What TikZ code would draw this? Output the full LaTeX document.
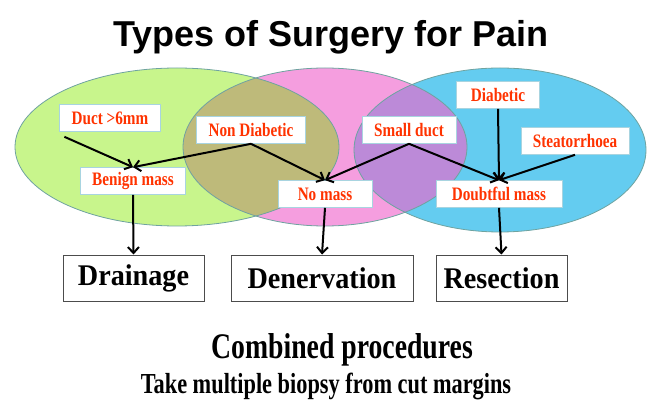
\documentclass[tikz,border=0pt]{standalone}
\usepackage{fontspec}
\usepackage{tikz}
\usetikzlibrary{arrows.meta, positioning, calc}
\setmainfont{Liberation Serif}
\newfontfamily\titlefont{Liberation Sans}
\newfontfamily\labelfont[FakeStretch=0.8]{Liberation Serif}
\newfontfamily\boxfont[FakeStretch=0.94]{Liberation Serif}
\newfontfamily\notefont[FakeStretch=0.77]{Liberation Serif}
\definecolor{DrainGreen}{HTML}{C8F58C}
\definecolor{DenervPink}{HTML}{F59EDF}
\definecolor{ResectBlue}{HTML}{64CCF0}
\definecolor{OverlapOlive}{HTML}{BEBA7A}
\definecolor{OverlapPurple}{HTML}{BC8AD8}
\definecolor{RimTeal}{HTML}{6FA3A0}
\definecolor{CondRed}{HTML}{FF3300}
\definecolor{CondEdge}{HTML}{A8D4E0}

\begin{document}
\begin{tikzpicture}[x=1pt, y=-1pt,
    cond/.style={draw=CondEdge, fill=white, line width=0.6pt, text=CondRed, inner xsep=12pt, minimum height=27pt,
        font=\labelfont\bfseries\fontsize{19}{21}\selectfont},
    proc/.style={draw=gray!60!black, fill=white, line width=1pt, minimum height=46pt,
        font=\boxfont\bfseries\fontsize{30}{32}\selectfont},
    arr/.style={-{Straight Barb[length=6pt, width=11pt]}, line width=2pt},
    rim/.style={draw=RimTeal, line width=0.8pt}]
        \useasboundingbox[fill=white] (0,0) rectangle (647,403);

        % Title
        \node[anchor=base, font=\titlefont\bfseries\fontsize{36}{40}\selectfont] (title) at (331,47) {Types of Surgery for Pain};

        % Ellipses
        \fill[DrainGreen] (177,147) ellipse [x radius=162pt, y radius=79pt];
        \fill[DenervPink] (325,147) ellipse [x radius=142pt, y radius=79pt];
        \fill[ResectBlue] (500,150) ellipse [x radius=146pt, y radius=82pt];
        \begin{scope}
            \clip (177,147) ellipse [x radius=162pt, y radius=79pt];
            \fill[OverlapOlive] (325,147) ellipse [x radius=142pt, y radius=79pt];
        \end{scope}
        \begin{scope}
            \clip (325,147) ellipse [x radius=142pt, y radius=79pt];
            \fill[OverlapPurple] (500,150) ellipse [x radius=146pt, y radius=82pt];
        \end{scope}
        \draw[rim] (177,147) ellipse [x radius=162pt, y radius=79pt];
        \draw[rim] (325,147) ellipse [x radius=142pt, y radius=79pt];
        \draw[rim] (500,150) ellipse [x radius=146pt, y radius=82pt];

        % Conditions
        \node[cond] (duct) at (110,118) {Duct >6mm};
        \node[cond] (nondiab) at (251,130) {Non Diabetic};
        \node[cond] (smallduct) at (409,130) {Small duct};
        \node[cond, minimum width=83pt] (diab) at (498,95) {Diabetic};
        \node[cond] (steat) at (575,141) {Steatorrhoea};
        \node[cond] (benign) at (133,181) {Benign mass};
        \node[cond, minimum width=94pt] (nomass) at (325,194) {No mass};
        \node[cond, minimum width=126pt] (doubtful) at (499,194) {Doubtful mass};

        % Procedures
        \node[proc, minimum width=141pt] (drainage) at (133.5,278) {Drainage};
        \node[proc, minimum width=182pt] (denerv) at (322,278) {Denervation};
        \node[proc, minimum width=131pt] (resect) at (501.5,278) {Resection};

        % Arrows
        \draw[arr] ([xshift=5pt, yshift=-5pt]duct.south west) -- (benign.north);
        \draw[arr] (nondiab.south) -- (benign.north);
        \draw[arr] (nondiab.south) -- (nomass.north);
        \draw[arr] (smallduct.south) -- (nomass.north);
        \draw[arr] (smallduct.south) -- (doubtful.north);
        \draw[arr] (diab.south) -- (doubtful.north);
        \draw[arr] (steat.south) -- (doubtful.north);
        \draw[arr] (benign.south) -- (drainage.north);
        \draw[arr] (nomass.south) -- (denerv.north);
        \draw[arr] (doubtful.south) -- (resect.north);

        % Notes
        \node[anchor=base, font=\notefont\bfseries\fontsize{36}{40}\selectfont] (combined) at (342,358) {Combined procedures};
        \node[anchor=base, font=\notefont\bfseries\fontsize{29}{32}\selectfont] (biopsy) at (326,393) {Take multiple biopsy from cut margins};
    \end{tikzpicture}
\end{document}
